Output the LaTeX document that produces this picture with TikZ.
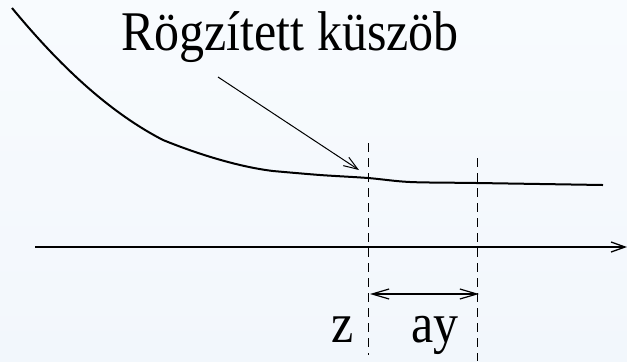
\documentclass[tikz,border=0pt]{standalone}
\usepackage{fontspec}
\setmainfont{Liberation Serif}
\usepackage{tikz}
\usetikzlibrary{arrows.meta}
\definecolor{paperblue}{RGB}{248,251,254}
\definecolor{paperblue2}{RGB}{242,247,252}
\newcommand{\tall}[1]{\scalebox{1}[1.12]{#1}}

\begin{document}
\begin{tikzpicture}[x=0.5pt,y=-0.5pt,
  every node/.style={font=\fontsize{25}{30}\selectfont,inner sep=0pt},
  curve/.style={line width=1pt,line join=round},
  guide/.style={line width=0.5pt,dash pattern=on 4.5pt off 3pt},
  barb/.style={-{Straight Barb[length=7pt,width=5pt]}},
  axisline/.style={line width=0.65pt,barb}]
\fill[top color=paperblue,bottom color=paperblue2] (0,0) rectangle (627,361);
\useasboundingbox (0,0) rectangle (627,361);
% labels
\node[anchor=base] (title) at (290,50) {\tall{Rögzített küszöb}};
\node[anchor=base] (zlab) at (343,342) {\tall{z}};
\node[anchor=base] (aylab) at (435,342) {\tall{ay}};
% free ends
\coordinate (ptr) at (218,77);
\coordinate (hit) at (359,170);
\coordinate (ax0) at (35,247);
\coordinate (ax1) at (627,247);
\coordinate (z0) at (368,143);
\coordinate (z1) at (368,355);
\coordinate (y0) at (477,158);
\coordinate (y1) at (477,361);
\coordinate (d0) at (370,294);
\coordinate (d1) at (479,294);
% the threshold curve
\draw[curve] (12,8) .. controls (55,60) and (105,110) .. (163,140)
  .. controls (200,155) and (240,167) .. (273,171)
  -- plot[smooth] coordinates {(273,171) (320,175) (368,178) (410,182)
  (477,183) (603,185)};
\draw[axisline] (ax0) -- (ax1);
\draw[guide] (z0) -- (z1);
\draw[guide] (y0) -- (y1);
\draw[line width=0.5pt,barb] (ptr) -- (hit);
\draw[line width=0.6pt,{Straight Barb[length=8.5pt,width=5pt]}-{Straight Barb[length=8.5pt,width=5pt]}] (d0) -- (d1);
\end{tikzpicture}
\end{document}
